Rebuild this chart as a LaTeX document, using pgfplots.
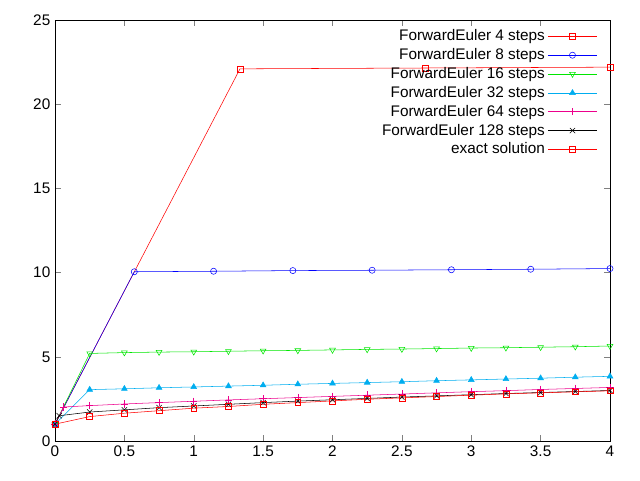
\documentclass[border=0pt]{standalone}
\usepackage{pgfplots}
\pgfplotsset{compat=1.18}
\usepackage{fontspec}
\setmainfont{Liberation Sans}
\definecolor{gg}{RGB}{0,230,0}
\begin{document}
\begin{tikzpicture}
\begin{axis}[
  scale only axis, width=416.25pt, height=315.75pt,
  xmin=0, xmax=4, ymin=0, ymax=25,
  xtick={0,0.5,...,4}, ytick={0,5,...,25},
  xticklabels={0,0.5,1,1.5,2,2.5,3,3.5,4},
  tick align=inside, tick pos=both,
  font=\fontsize{11.5}{13}\selectfont,
  /pgf/number format/assume math mode=true,
  legend style={draw=none, fill=none, at={(0.985,0.99)}, anchor=north east, row sep=0.3pt, font=\fontsize{11.5}{13}\selectfont},
  legend cell align=right, legend plot pos=right,
  legend image code/.code={\draw[mark repeat=2,mark phase=2,#1] plot coordinates {(0cm,0cm)(0.65cm,0cm)(1.3cm,0cm)};},
  every axis plot/.append style={thin},
]
\addplot[red, mark=square, mark size=2.2pt] coordinates {(0,1)(1.3333,22.1)(2.6667,22.15)(4,22.2)};
\addlegendentry{ForwardEuler 4 steps}
\addplot[blue, mark=o, mark size=2.3pt] coordinates {(0,1)(0.5714,10.05)(1.1429,10.08)(1.7143,10.12)(2.2857,10.14)(2.8571,10.17)(3.4286,10.2)(4,10.24)};
\addlegendentry{ForwardEuler 8 steps}
\addplot[gg, mark=triangle, mark options={rotate=180}, mark size=2.5pt] coordinates {(0,1)(0.25,5.2)(0.5,5.25)(0.75,5.28)(1,5.3)(1.25,5.33)(1.5,5.36)(1.75,5.38)(2,5.41)(2.25,5.44)(2.5,5.46)(2.75,5.49)(3,5.52)(3.25,5.54)(3.5,5.57)(3.75,5.6)(4,5.64)};
\addlegendentry{ForwardEuler 16 steps}
\addplot[cyan, mark=triangle*, mark size=2.5pt] coordinates {(0,1)(0.25,3.05)(0.5,3.1)(0.75,3.16)(1,3.21)(1.25,3.26)(1.5,3.31)(1.75,3.37)(2,3.42)(2.25,3.47)(2.5,3.52)(2.75,3.58)(3,3.63)(3.25,3.68)(3.5,3.73)(3.75,3.79)(4,3.84)};
\addlegendentry{ForwardEuler 32 steps}
\addplot[magenta, mark=+, mark size=2.8pt] coordinates {(0,1)(0.0625,2.02)(0.25,2.1)(0.5,2.2)(0.75,2.28)(1,2.36)(1.25,2.44)(1.5,2.51)(1.75,2.58)(2,2.65)(2.25,2.72)(2.5,2.79)(2.75,2.86)(3,2.93)(3.25,2.99)(3.5,3.06)(3.75,3.12)(4,3.18)};
\addlegendentry{ForwardEuler 64 steps}
\addplot[black, mark=x, mark size=2.8pt] coordinates {(0,1)(0.03,1.5)(0.25,1.72)(0.5,1.85)(0.75,1.98)(1,2.08)(1.25,2.18)(1.5,2.28)(1.75,2.37)(2,2.45)(2.25,2.53)(2.5,2.61)(2.75,2.68)(3,2.75)(3.25,2.82)(3.5,2.88)(3.75,2.94)(4,3.0)};
\addlegendentry{ForwardEuler 128 steps}
\addplot[red, mark=square, mark size=2.2pt] coordinates {(0,1)(0.25,1.45)(0.5,1.65)(0.75,1.8)(1,1.95)(1.25,2.05)(1.5,2.18)(1.75,2.28)(2,2.38)(2.25,2.48)(2.5,2.56)(2.75,2.64)(3,2.72)(3.25,2.8)(3.5,2.86)(3.75,2.92)(4,2.98)};
\addlegendentry{exact solution}
\end{axis}
\useasboundingbox (-41.25pt,-29.25pt) rectangle (438.75pt,330.75pt);
\end{tikzpicture}
\end{document}
